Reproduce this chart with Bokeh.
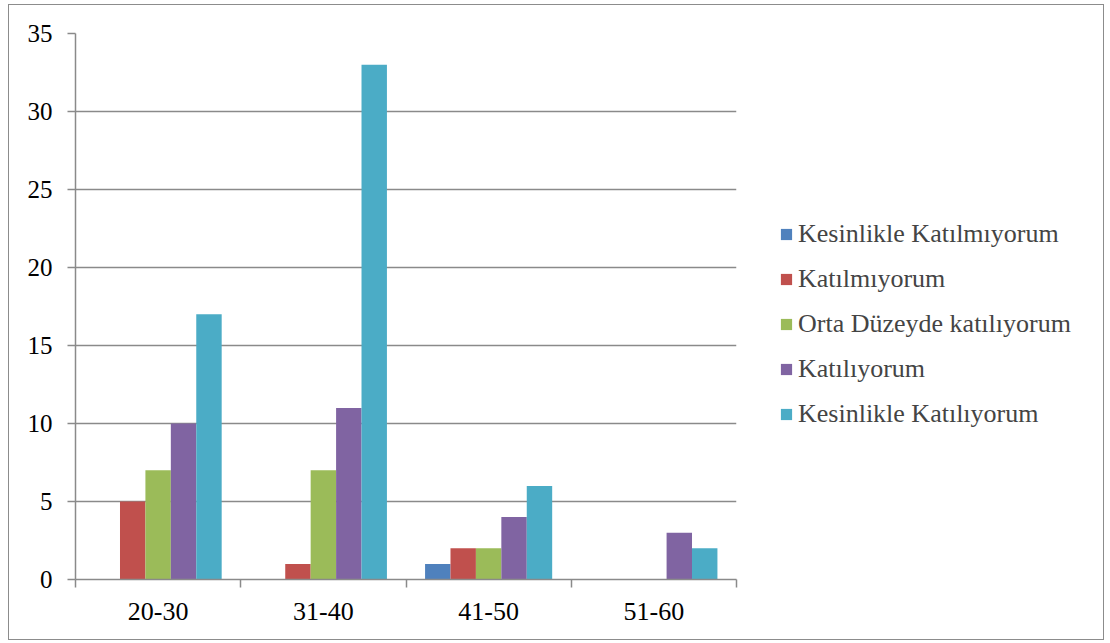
from bokeh.plotting import figure
from bokeh.models import Range1d, FixedTicker, Legend, LegendItem, ColumnDataSource
from bokeh.embed import file_html
from bokeh.resources import INLINE

categories = ["20-30", "31-40", "41-50", "51-60"]
series_names = ["Kesinlikle Katılmıyorum", "Katılmıyorum", "Orta Düzeyde katılıyorum",
                "Katılıyorum", "Kesinlikle Katılıyorum"]
kesinlikle_katilmiyorum = [0, 0, 1, 0]
katilmiyorum = [5, 1, 2, 0]
orta_duzeyde = [7, 7, 2, 0]
katiliyorum = [10, 11, 4, 3]
kesinlikle_katiliyorum = [17, 33, 6, 2]
series_values = [kesinlikle_katilmiyorum, katilmiyorum, orta_duzeyde, katiliyorum, kesinlikle_katiliyorum]
colors = ["#4F81BD", "#C0504D", "#9BBB59", "#8064A2", "#4BACC6"]
y_ticks = [0, 5, 10, 15, 20, 25, 30, 35]

FONT = "Liberation Serif"
GRAY = "#8a8a8a"

p = figure(frame_width=661, frame_height=546,
           x_range=Range1d(0, len(categories)), y_range=Range1d(0, 35),
           output_backend="svg", toolbar_location=None,
           min_border_left=66, min_border_top=28, min_border_right=0, min_border_bottom=60,
           margin=(4, 0, 0, 8),
           styles={"border": "1.5px solid #8c8c8c", "max-width": "1094px",
                   "overflow": "hidden", "box-sizing": "content-box"})
p.outline_line_color = None
p.background_fill_color = "white"
p.border_fill_color = "white"

n = len(series_names)
bw = 1 / 6.5
items = []
for k, (name, vals, c) in enumerate(zip(series_names, series_values, colors)):
    xs = [i + 0.5 + (k - (n - 1) / 2) * bw for i in range(len(categories))]
    src = ColumnDataSource(dict(x=xs, top=vals))
    r = p.vbar(x="x", top="top", width=bw, source=src, fill_color=c, line_color=None)
    items.append(LegendItem(label=name, renderers=[r]))

# x axis
p.xaxis.ticker = FixedTicker(ticks=[i + 0.5 for i in range(len(categories))],
                             minor_ticks=list(range(len(categories) + 1)))
p.xaxis.major_label_overrides = {i + 0.5: c for i, c in enumerate(categories)}
p.xaxis.major_tick_line_color = None
p.xaxis.major_tick_out = 0
p.xaxis.minor_tick_out = 8
p.xaxis.minor_tick_in = 0
p.xaxis.minor_tick_line_color = GRAY
p.xaxis.minor_tick_line_width = 1.5
p.xaxis.axis_line_color = GRAY
p.xaxis.axis_line_width = 1.5
p.xaxis.major_label_text_font = FONT
p.xaxis.major_label_text_font_size = "26px"
p.xaxis.major_label_text_color = "black"
p.xaxis.major_label_standoff = 15

# y axis
p.yaxis.ticker = FixedTicker(ticks=y_ticks)
p.yaxis.major_tick_out = 8
p.yaxis.major_tick_in = 0
p.yaxis.minor_tick_line_color = None
p.yaxis.major_tick_line_color = GRAY
p.yaxis.major_tick_line_width = 1.5
p.yaxis.axis_line_color = GRAY
p.yaxis.axis_line_width = 1.5
p.yaxis.major_label_text_font = FONT
p.yaxis.major_label_text_font_size = "25px"
p.yaxis.major_label_text_color = "black"
p.yaxis.major_label_standoff = 15

p.xgrid.grid_line_color = None
p.ygrid.grid_line_color = GRAY
p.ygrid.grid_line_width = 1.5

legend = Legend(items=items, location=(43, 150),
                label_text_font=FONT, label_text_font_size="26px",
                label_height=26, glyph_height=14, glyph_width=14,
                spacing=15, label_standoff=5, padding=0, margin=0,
                border_line_color=None, background_fill_alpha=0)
p.add_layout(legend, "right")

open("out.html", "w").write(file_html(p, INLINE))
